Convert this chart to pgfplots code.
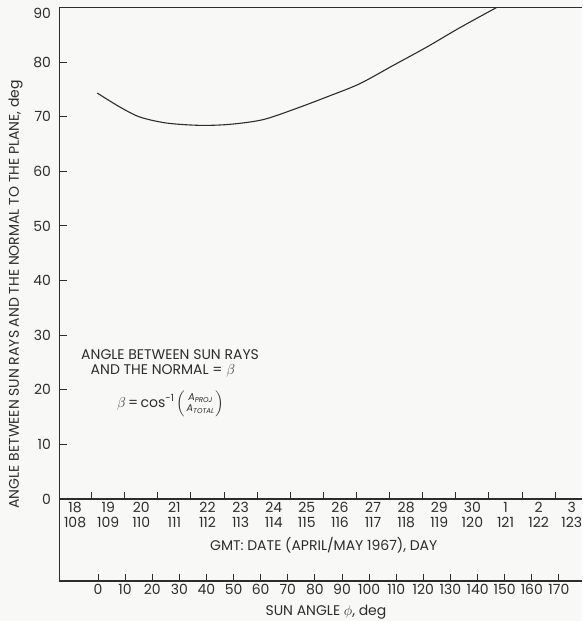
\documentclass[border=0pt]{standalone}
\usepackage{amsmath}
\usepackage{fontspec}
\setmainfont{Poppins}
\usepackage{pgfplots}
\pgfplotsset{compat=1.18}
\definecolor{ink}{RGB}{45,45,45}
\definecolor{bgc}{RGB}{248,248,246}
\begin{document}
\begin{tikzpicture}[font=\fontsize{14}{14.5}\selectfont]
\fill[bgc] (-59.5pt,7.5pt) rectangle (522.5pt,-613.5pt);
\begin{axis}[name=main, at={(0pt,0pt)}, anchor=north west, scale only axis,
  width=522.5pt, height=491.5pt,
  xmin=108.03, xmax=123.81, ymin=0, ymax=90,
  axis x line*=bottom, axis y line*=left,
  axis line style={ink, line width=1.1pt},
  tick style={ink, line width=1pt},
  tick align=inside, major tick length=7pt,
  ytick={0,10,...,80}, extra y ticks={90},
  extra y tick style={yticklabel style={yshift=-6pt}},
  yticklabel style={xshift=-5pt, text=ink},
  xtick={109,110,...,123}, xticklabels={},
  extra x ticks={108.5,109.5,...,123.5},
  extra x tick labels={{18\\108},{19\\109},{20\\110},{21\\111},{22\\112},{23\\113},{24\\114},{25\\115},{26\\116},{27\\117},{28\\118},{29\\119},{30\\120},{1\\121},{2\\122},{3\\123}},
  extra x tick style={major tick length=0pt, tick style={draw=none}},
  xticklabel style={align=center, text=ink},
  /pgf/number format/assume math mode=true,
  xlabel={GMT: DATE (APRIL/MAY 1967), DAY},
  xlabel style={at={(axis description cs:0.5057,0)}, anchor=center, yshift=-46pt, text=ink},
  clip=false]
\addplot[ink, line width=1.1pt, smooth] coordinates {
(109.17,74.33) (109.855,71.77) (110.46,69.94) (111.265,68.84) (112.27,68.42)
(113.18,68.61) (114.18,69.47) (115.19,71.53) (116.20,73.85) (117.10,76.05)
(118.11,79.40) (119.12,82.75) (120.12,86.30) (121.23,90.0)};
\node[text=ink, inner sep=0pt, align=left, anchor=north west] at (axis cs:108.68,27.3)
  {ANGLE BETWEEN SUN RAYS\\\hspace*{9.5pt}AND THE NORMAL = $\beta$};
\node[text=ink, inner sep=0pt] at (axis cs:111.39,17.5) {$\beta$\,=\,cos\textsuperscript{-1}\,$\left(\genfrac{}{}{0pt}{}{\textit{A}_{\textit{PROJ}}}{\textit{A}_{\textit{TOTAL}}}\right)$};
\end{axis}
\begin{axis}[at={(0pt,0pt)}, anchor=north west, scale only axis,
  width=522.5pt, height=573.5pt,
  xmin=-14.2, xmax=178.5, ymin=-15, ymax=90,
  axis x line*=bottom, axis y line*=left,
  axis line style={ink, line width=1.1pt},
  tick style={ink, line width=1pt},
  tick align=inside, major tick length=7pt,
  ytick=\empty,
  xtick={0,10,...,170},
  xticklabel style={text=ink},
  /pgf/number format/assume math mode=true,
  xlabel={SUN ANGLE $\phi$, deg},
  xlabel style={at={(axis description cs:0.51,0)}, anchor=center, yshift=-31pt, text=ink},
  ylabel={ANGLE BETWEEN SUN RAYS AND THE NORMAL TO THE PLANE, deg},
  every axis y label/.style={at={(axis description cs:-0.0842,0.5)}, rotate=90, anchor=center, text=ink},
  clip=false]
\draw[ink, line width=1.1pt] (rel axis cs:0,1) -- (rel axis cs:1,1);
\end{axis}
\pgfresetboundingbox
\path (-59.5pt,7.5pt) rectangle (522.5pt,-613.5pt);
\end{tikzpicture}
\end{document}
